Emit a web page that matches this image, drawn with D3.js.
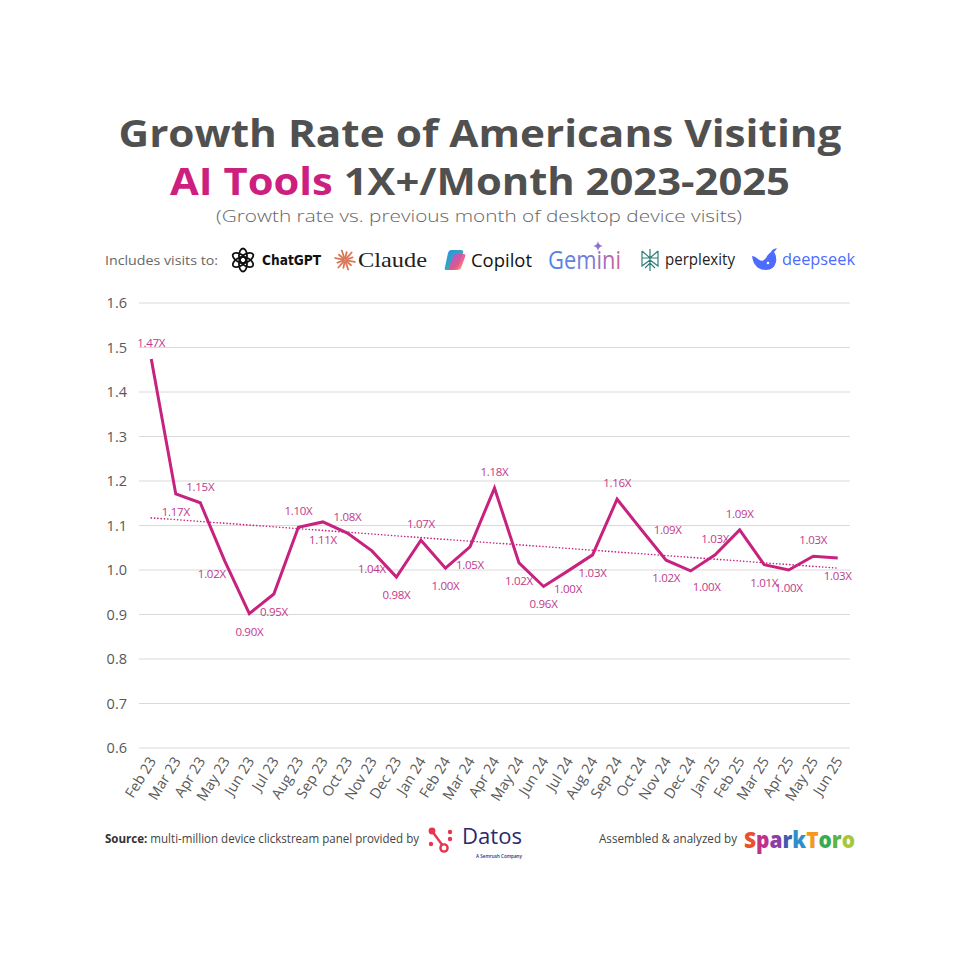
<!DOCTYPE html>
<html>
<head>
<meta charset="utf-8">
<script src="https://cdn.jsdelivr.net/npm/d3@7"></script>
<style>
  body { margin: 0; background: #fff; }
  svg { display: block; }
</style>
</head>
<body>
<div id="chart"></div>
<script>
// monthly growth rate vs previous month (desktop visits)
const months = ["Feb 23", "Mar 23", "Apr 23", "May 23", "Jun 23", "Jul 23", "Aug 23", "Sep 23",
  "Oct 23", "Nov 23", "Dec 23", "Jan 24", "Feb 24", "Mar 24", "Apr 24", "May 24", "Jun 24",
  "Jul 24", "Aug 24", "Sep 24", "Oct 24", "Nov 24", "Dec 24", "Jan 25", "Feb 25", "Mar 25",
  "Apr 25", "May 25", "Jun 25"];
const growth = [1.474, 1.171, 1.151, 1.020, 0.902, 0.946, 1.096, 1.108, 1.083, 1.043, 0.984,
  1.067, 1.004, 1.052, 1.184, 1.016, 0.963, 0.998, 1.034, 1.159, 1.090, 1.022, 0.998, 1.034,
  1.090, 1.012, 1.000, 1.031, 1.027];
// where each value label sits relative to its point
const labelSide = ["T", "B", "T", "BL", "B", "B", "T", "B", "T", "B", "B", "T", "B", "B", "T",
  "B", "B", "B", "B", "T", "R", "B", "BR", "T", "T", "B", "B", "T", "B"];
const yTicks = [0.6, 0.7, 0.8, 0.9, 1.0, 1.1, 1.2, 1.3, 1.4, 1.5, 1.6];

const magenta = "#C8227F";
const labelColor = "#C2388B";
const gray = "#505050";

const width = 960, height = 960;
const svg = d3.select("#chart").append("svg")
  .attr("width", width)
  .attr("height", height)
  .style("font-family", "'Open Sans', sans-serif");

const defs = svg.append("defs");

// ---- title
svg.append("text")
  .attr("x", 480).attr("y", 147)
  .attr("text-anchor", "middle")
  .attr("textLength", 723).attr("lengthAdjust", "spacingAndGlyphs")
  .attr("font-size", 38).attr("font-weight", 700)
  .attr("fill", gray)
  .text("Growth Rate of Americans Visiting");

const t2 = svg.append("text")
  .attr("x", 480).attr("y", 195)
  .attr("text-anchor", "middle")
  .attr("textLength", 620).attr("lengthAdjust", "spacingAndGlyphs")
  .attr("font-size", 38).attr("font-weight", 700)
  .attr("fill", gray);
t2.append("tspan").attr("fill", "#CC1F80").text("AI Tools");
t2.append("tspan").text(" 1X+/Month 2023-2025");

svg.append("text")
  .attr("x", 479).attr("y", 222)
  .attr("text-anchor", "middle")
  .attr("textLength", 526).attr("lengthAdjust", "spacingAndGlyphs")
  .attr("font-size", 17).attr("font-weight", 300)
  .attr("fill", "#666")
  .text("(Growth rate vs. previous month of desktop device visits)");

// ---- logo row
const logoY = 260;
svg.append("text")
  .attr("x", 105).attr("y", logoY + 5)
  .attr("textLength", 113).attr("lengthAdjust", "spacingAndGlyphs")
  .attr("font-size", 12).attr("fill", "#666")
  .text("Includes visits to:");

// ChatGPT
const gpt = svg.append("g").attr("transform", `translate(243,${logoY})`);
d3.range(6).forEach(i => {
  gpt.append("ellipse")
    .attr("cx", 0).attr("cy", -4).attr("rx", 4).attr("ry", 7.5)
    .attr("transform", `rotate(${i * 60})`)
    .attr("fill", "none").attr("stroke", "#111").attr("stroke-width", 1.8);
});
svg.append("text").attr("x", 262).attr("y", logoY + 5)
  .attr("textLength", 59).attr("lengthAdjust", "spacingAndGlyphs")
  .attr("font-size", 14).attr("font-weight", 700).attr("fill", "#111")
  .style("font-family", "'DejaVu Sans', sans-serif")
  .text("ChatGPT");

// Claude
const cl = svg.append("g").attr("transform", `translate(345,${logoY})`);
d3.range(12).forEach(i => {
  const a = i * Math.PI / 6 + 0.2;
  const r = i % 2 ? 8 : 10;
  cl.append("line")
    .attr("x1", Math.cos(a) * 1.5).attr("y1", Math.sin(a) * 1.5)
    .attr("x2", Math.cos(a) * r).attr("y2", Math.sin(a) * r)
    .attr("stroke", "#D97757").attr("stroke-width", 1.8).attr("stroke-linecap", "round");
});
svg.append("text").attr("x", 358).attr("y", logoY + 7)
  .attr("textLength", 69).attr("lengthAdjust", "spacingAndGlyphs")
  .attr("font-size", 22).attr("fill", "#222")
  .style("font-family", "'Liberation Serif', serif")
  .text("Claude");

// Copilot
const g1 = defs.append("linearGradient").attr("id", "copA").attr("x1", 0).attr("y1", 0).attr("x2", 1).attr("y2", 1);
g1.append("stop").attr("offset", 0).attr("stop-color", "#2A8CF0");
g1.append("stop").attr("offset", 1).attr("stop-color", "#3CC48A");
const g2 = defs.append("linearGradient").attr("id", "copB").attr("x1", 0).attr("y1", 0).attr("x2", 1).attr("y2", 1);
g2.append("stop").attr("offset", 0).attr("stop-color", "#B34FE0");
g2.append("stop").attr("offset", 0.6).attr("stop-color", "#F0508A");
g2.append("stop").attr("offset", 1).attr("stop-color", "#F7A534");
const cop = svg.append("g").attr("transform", `translate(455,${logoY})`);
cop.append("path").attr("d", "M-4,-10 L6,-10 Q9,-10 8,-7 L3,8 Q2,10 -1,10 L-9,10 Q-11,10 -10,7 L-7,-7 Q-6,-10 -4,-10 Z")
  .attr("fill", "url(#copA)");
cop.append("path").attr("d", "M1,-6 L9,-6 Q11,-6 10,-3 L6,8 Q5,10 2,10 L-5,10 Q-7,10 -6,7 L-2,-3 Q-1,-6 1,-6 Z")
  .attr("fill", "url(#copB)").attr("opacity", 0.9);
svg.append("text").attr("x", 471).attr("y", logoY + 7)
  .attr("textLength", 61).attr("lengthAdjust", "spacingAndGlyphs")
  .attr("font-size", 19).attr("font-weight", 500).attr("fill", "#111")
  .text("Copilot");

// Gemini
const gg = defs.append("linearGradient").attr("id", "gem").attr("x1", 0).attr("y1", 0).attr("x2", 1).attr("y2", 0);
gg.append("stop").attr("offset", 0).attr("stop-color", "#4A86E8");
gg.append("stop").attr("offset", 0.55).attr("stop-color", "#7A7BD8");
gg.append("stop").attr("offset", 1).attr("stop-color", "#D0608F");
svg.append("text").attr("x", 548).attr("y", logoY + 9)
  .attr("textLength", 73).attr("lengthAdjust", "spacingAndGlyphs")
  .attr("font-size", 25).attr("fill", "url(#gem)")
  .text("Gemini");
svg.append("path")
  .attr("transform", `translate(598,${logoY - 14})`)
  .attr("d", "M0,-5 Q0.6,-0.6 5,0 Q0.6,0.6 0,5 Q-0.6,0.6 -5,0 Q-0.6,-0.6 0,-5 Z")
  .attr("fill", "#8E6FD8");

// perplexity
const px = svg.append("g").attr("transform", `translate(650,${logoY})`)
  .attr("fill", "none").attr("stroke", "#2E7D7A").attr("stroke-width", 1.2);
px.append("path").attr("d", "M0,-11 L0,11 M-8,-9 L0,-2 L8,-9 M-8,-9 L-8,-2 L8,-2 L8,-9 M-8,-2 L-8,6 L0,0 L8,6 L8,-2 M-5,8 L0,3 L5,8");
svg.append("text").attr("x", 665).attr("y", logoY + 5)
  .attr("textLength", 70).attr("lengthAdjust", "spacingAndGlyphs")
  .attr("font-size", 16).attr("fill", "#222")
  .text("perplexity");

// deepseek
const ds = svg.append("g").attr("transform", `translate(764,${logoY})`);
ds.append("path")
  .attr("d", "M-12,-4 Q-10,10 2,10 Q10,10 12,2 Q13,-4 10,-8 Q12,-10 13,-12 Q8,-11 7,-8 Q4,-6 2,-2 Q-2,3 -6,-1 Q-9,-4 -12,-4 Z")
  .attr("fill", "#4D6BFE");
ds.append("circle").attr("cx", 4).attr("cy", 3).attr("r", 1.3).attr("fill", "#fff");
svg.append("text").attr("x", 782).attr("y", logoY + 5)
  .attr("textLength", 73).attr("lengthAdjust", "spacingAndGlyphs")
  .attr("font-size", 16).attr("font-weight", 500).attr("fill", "#4D6BFE")
  .text("deepseek");

// ---- chart
const plot = { left: 139, right: 850, top: 303, bottom: 748 };

const x = d3.scalePoint()
  .domain(months)
  .range([plot.left, plot.right])
  .padding(0.5);

const y = d3.scaleLinear()
  .domain([0.6, 1.6])
  .range([plot.bottom, plot.top]);

// gridlines
svg.append("g")
  .selectAll("line")
  .data(yTicks)
  .join("line")
  .attr("x1", plot.left).attr("x2", plot.right)
  .attr("y1", d => y(d)).attr("y2", d => y(d))
  .attr("stroke", "#D9D9D9").attr("stroke-width", 1);

// y axis
const yAxis = svg.append("g")
  .attr("transform", `translate(${plot.left - 6},0)`)
  .call(d3.axisLeft(y).tickValues(yTicks).tickFormat(d3.format(".1f")).tickSize(0).tickPadding(6));
yAxis.select(".domain").remove();
yAxis.selectAll("text")
  .attr("font-size", 14.5).attr("fill", "#595959")
  .style("font-family", "'Open Sans', sans-serif");

// x axis
const xAxis = svg.append("g")
  .attr("transform", `translate(0,${plot.bottom})`)
  .call(d3.axisBottom(x).tickSize(0).tickPadding(0));
xAxis.select(".domain").remove();
xAxis.selectAll("text")
  .attr("font-size", 14.5).attr("fill", "#595959")
  .attr("text-anchor", "end")
  .attr("dy", null)
  .attr("transform", "translate(5,13) rotate(-58)")
  .style("font-family", "'Open Sans', sans-serif");

// linear trendline
const data = months.map((m, i) => ({ month: m, i, value: growth[i] }));
const n = data.length;
const meanI = d3.mean(data, d => d.i);
const meanV = d3.mean(data, d => d.value);
const slope = d3.sum(data, d => (d.i - meanI) * (d.value - meanV)) / d3.sum(data, d => (d.i - meanI) ** 2);
const intercept = meanV - slope * meanI;
const trend = [data[0], data[n - 1]].map(d => ({ month: d.month, value: intercept + slope * d.i }));

svg.append("path")
  .datum(trend)
  .attr("fill", "none")
  .attr("stroke", magenta)
  .attr("stroke-width", 1.6)
  .attr("stroke-dasharray", "0.1,3.2")
  .attr("stroke-linecap", "round")
  .attr("d", d3.line().x(d => x(d.month)).y(d => y(d.value)));

// main line
svg.append("path")
  .datum(data)
  .attr("fill", "none")
  .attr("stroke", magenta)
  .attr("stroke-width", 3)
  .attr("stroke-linejoin", "miter")
  .attr("d", d3.line().x(d => x(d.month)).y(d => y(d.value)));

// value labels
const sideOffset = {
  T: [0, -16], B: [0, 18], R: [26, 0], BL: [-13, 13], BR: [16, 16]
};
svg.append("g")
  .selectAll("text")
  .data(data)
  .join("text")
  .attr("x", d => x(d.month) + sideOffset[labelSide[d.i]][0])
  .attr("y", d => y(d.value) + sideOffset[labelSide[d.i]][1])
  .attr("dy", "0.35em")
  .attr("text-anchor", "middle")
  .attr("font-size", 11.5)
  .attr("letter-spacing", -0.3)
  .attr("fill", labelColor)
  .text(d => d3.format(".2f")(d.value) + "X");

// ---- footer
const foot = svg.append("text")
  .attr("x", 105).attr("y", 843)
  .attr("textLength", 314).attr("lengthAdjust", "spacingAndGlyphs")
  .attr("font-size", 12).attr("fill", "#444");
foot.append("tspan").attr("font-weight", 700).attr("fill", "#333").text("Source:");
foot.append("tspan").text(" multi-million device clickstream panel provided by");

// Datos
const dat = svg.append("g").attr("transform", "translate(428,827)");
const datRed = "#E8344E";
dat.append("line").attr("x1", 4).attr("y1", 4).attr("x2", 15).attr("y2", 19)
  .attr("stroke", datRed).attr("stroke-width", 2.4);
dat.append("circle").attr("cx", 4).attr("cy", 4).attr("r", 3.4).attr("fill", datRed);
dat.append("circle").attr("cx", 16).attr("cy", 21).attr("r", 3.6).attr("fill", "#fff")
  .attr("stroke", datRed).attr("stroke-width", 2.4);
dat.append("circle").attr("cx", 3).attr("cy", 17).attr("r", 2.2).attr("fill", datRed);
dat.append("circle").attr("cx", 22).attr("cy", 5).attr("r", 2.2).attr("fill", datRed);
dat.append("circle").attr("cx", 22).attr("cy", 12).attr("r", 2.2).attr("fill", datRed);
svg.append("text").attr("x", 462).attr("y", 844)
  .attr("textLength", 60).attr("lengthAdjust", "spacingAndGlyphs")
  .attr("font-size", 22).attr("fill", "#2C2A6E")
  .text("Datos");
svg.append("text").attr("x", 476).attr("y", 858)
  .attr("textLength", 46).attr("lengthAdjust", "spacingAndGlyphs")
  .attr("font-size", 5.5).attr("font-weight", 600).attr("fill", "#2C2A6E")
  .text("A Semrush Company");

svg.append("text")
  .attr("x", 599).attr("y", 843)
  .attr("textLength", 138).attr("lengthAdjust", "spacingAndGlyphs")
  .attr("font-size", 12).attr("fill", "#444")
  .text("Assembled & analyzed by");

// SparkToro
const sparkColors = ["#E9502F", "#C0318A", "#8A3FA6", "#3E5CB0", "#2F8FCB", "#F39A1E", "#3AAA4F", "#5DB248", "#A6C73A"];
const spark = svg.append("text")
  .attr("x", 744).attr("y", 848)
  .attr("textLength", 111).attr("lengthAdjust", "spacingAndGlyphs")
  .attr("font-size", 22).attr("font-weight", 800)
  .style("font-family", "'Open Sans', sans-serif");
"SparkToro".split("").forEach((c, i) => {
  spark.append("tspan").attr("fill", sparkColors[i]).text(c);
});
</script>
</body>
</html>
